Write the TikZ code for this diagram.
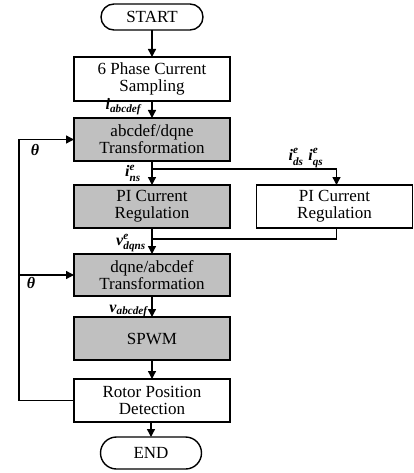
\documentclass[tikz,border=0pt]{standalone}
\usepackage{amsmath}
\usepackage{fontspec}
\setmainfont{Liberation Serif}
\usetikzlibrary{arrows.meta}
\definecolor{boxgray}{RGB}{192,192,192}
\newcommand{\bi}[1]{\textbf{\textit{#1}}}
\begin{document}
\begin{tikzpicture}[x=1pt,y=-1pt,
  every node/.style={inner sep=0pt, outer sep=0pt},
  procbox/.style={draw, line width=1.4pt, minimum width=156pt, minimum height=43pt,
    align=center, font=\fontsize{17}{17}\selectfont},
  grayproc/.style={procbox, fill=boxgray},
  term/.style={draw, line width=1.4pt, rounded corners=13pt, minimum height=26pt,
    align=center, font=\fontsize{17}{17}\selectfont},
  conn/.style={line width=1.4pt},
  arr/.style={conn, -{Triangle[width=8pt,length=8pt]}},
  lbl/.style={font=\fontsize{16}{16}\selectfont}
]
\useasboundingbox (0,0) rectangle (414,473);
\node[term, minimum width=102pt] (start) at (152,17) {START};
\node[procbox, minimum height=44pt] (samp) at (152,79) {6 Phase Current\\Sampling};
\node[grayproc] (t1) at (152,139.5) {abcdef/dqne\\Transformation};
\node[grayproc] (pi1) at (152,206.5) {PI Current\\Regulation};
\node[procbox] (pi2) at (334.5,206.5) {PI Current\\Regulation};
\node[grayproc, minimum height=42pt] (t2) at (152,275) {dqne/abcdef\\Transformation};
\node[grayproc] (spwm) at (152,338.5) {SPWM};
\node[procbox] (rotor) at (152,400.5) {Rotor Position\\Detection};
\node[term, minimum width=101pt, minimum height=32pt, rounded corners=16pt] (endn) at (151,453) {END};

\coordinate (br) at (152,169);
\coordinate (mg) at (152,239);
\coordinate (fbl) at (19,400.5);
\coordinate (fbm) at (19,275);

\draw[arr] (start) -- (samp);
\draw[arr] (samp) -- (t1);
\draw[arr] (t1) -- (pi1);
\draw[arr] (br) -| ([xshift=2pt]pi2.north);
\draw[arr] (pi1) -- (t2);
\draw[conn] ([xshift=2pt]pi2.south) |- (mg);
\draw[arr] (t2) -- (spwm);
\draw[arr] (spwm) -- (rotor);
\draw[arr] (rotor.south -| endn) -- (endn);
\draw[conn] (rotor.west) -- (fbl);
\draw[arr] (fbl) |- (t1.west);
\draw[arr] (fbm) -- (t2.west);

\node[lbl, anchor=base east] (l1) at (142,110) {$\bi{i}_{\bi{abcdef}}$};
\node[lbl] (th1) at (35,150) {\bi{θ}};
\node[lbl] (l2) at (133,173) {$\bi{i}^{\bi{e}}_{\bi{ns}}$};
\node[lbl] (l3) at (306,158) {$\bi{i}^{\bi{e}}_{\bi{ds}}\;\bi{i}^{\bi{e}}_{\bi{qs}}$};
\node[lbl] (l4) at (131,243) {$\bi{v}^{\bi{e}}_{\bi{dqns}}$};
\node[lbl] (th2) at (31,283) {\bi{θ}};
\node[lbl] (l5) at (129,311) {$\bi{v}_{\bi{abcdef}}$};
\end{tikzpicture}
\end{document}
